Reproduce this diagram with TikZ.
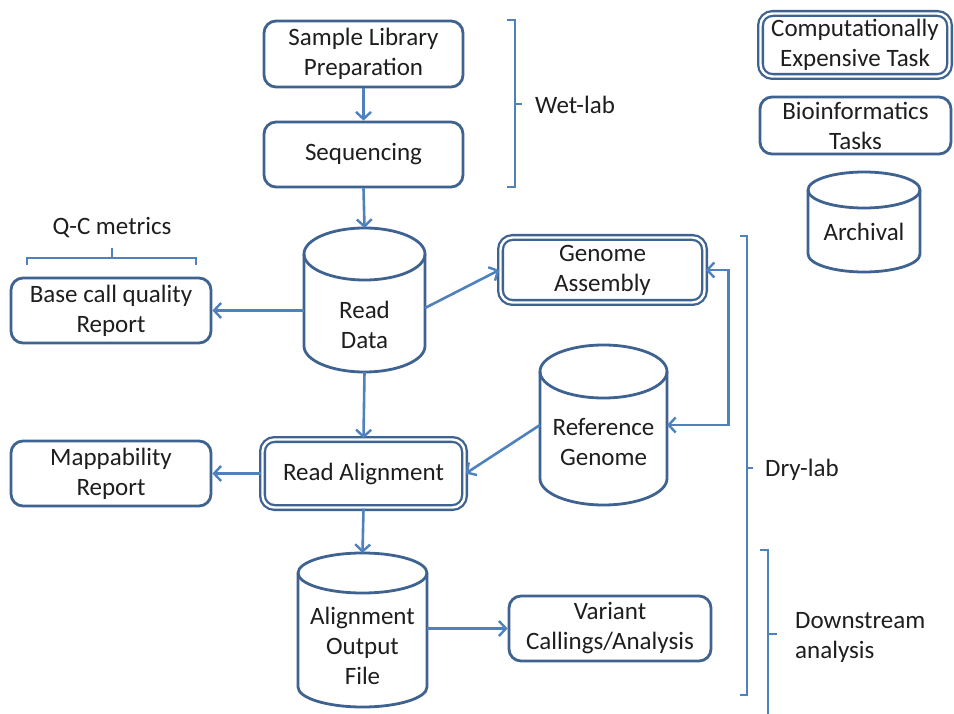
\documentclass[tikz,border=0pt]{standalone}
\usepackage{fontspec}
\setmainfont{Carlito}
\usetikzlibrary{arrows.meta,calc}
\definecolor{linkblue}{HTML}{4F81BD}
\definecolor{boxblue}{HTML}{3F6391}
\definecolor{txtcol}{HTML}{1E1E1E}
\newcommand{\cylshape}[3]{%
  \draw[cylline, fill=white] ([yshift=-#3]#1.north west) -- ([yshift=#3]#1.south west)
    arc[start angle=180, end angle=360, x radius=#2, y radius=#3]
    -- ([yshift=-#3]#1.north east)
    arc[start angle=0, end angle=180, x radius=#2, y radius=#3] -- cycle;
  \draw[cylline] ([yshift=-#3]#1.north west)
    arc[start angle=180, end angle=360, x radius=#2, y radius=#3];
}
\begin{document}
\begin{tikzpicture}[x=1pt, y=-1pt,
  every node/.style={font=\fontsize{25}{30}\selectfont, text=txtcol, align=center},
  taskbox/.style={draw=boxblue, line width=2.8pt, rounded corners=12pt, fill=white, inner sep=0pt},
  costbox/.style={draw=boxblue, line width=2.3pt, double=white, double distance=2.4pt, rounded corners=12pt, fill=white, inner sep=0pt},
  cylnode/.style={inner sep=0pt, outer sep=0pt},
  cylline/.style={draw=boxblue, line width=2.8pt},
  link/.style={draw=linkblue, line width=2.6pt, -{Straight Barb[length=7pt, width=15pt, line width=2.4pt]}},
  twolink/.style={draw=linkblue, line width=2.6pt, {Straight Barb[length=7pt, width=15pt, line width=2.4pt]}-{Straight Barb[length=7pt, width=15pt, line width=2.4pt]}},
  brace/.style={draw=linkblue, line width=2.6pt},
  lbl/.style={anchor=west, inner sep=0pt, align=left}
]
\useasboundingbox[fill=white] (0,0) rectangle (954,714);

% ---- main flow boxes
\node[taskbox, minimum width=199pt, minimum height=66pt] (sl) at (363.5,54) {Sample Library\\Preparation};
\node[taskbox, minimum width=199pt, minimum height=65pt] (sq) at (363.5,154.5) {Sequencing};
\node[taskbox, minimum width=200pt, minimum height=65pt] (bc) at (111,310.5) {Base call quality\\Report};
\node[taskbox, minimum width=200pt, minimum height=65pt] (mp) at (111,473.5) {Mappability\\Report};
\node[taskbox, minimum width=202pt, minimum height=65pt] (vc) at (610,628.5) {Variant\\Callings/Analysis};
\node[costbox, minimum width=204pt, minimum height=65pt] (ga) at (602.5,270) {Genome\\Assembly};
\node[costbox, minimum width=202pt, minimum height=68pt] (ra) at (363.5,473.5) {Read Alignment};

% ---- cylinders
\node[cylnode, minimum width=121pt, minimum height=144pt] (rd) at (364.5,300) {};
\cylshape{rd}{60.5pt}{26pt}
\node (rdt) at (364.5,325) {Read\\Data};

\node[cylnode, minimum width=127pt, minimum height=160pt] (rg) at (603.5,425) {};
\cylshape{rg}{63.5pt}{26.5pt}
\node (rgt) at (603.5,442) {Reference\\Genome};

\node[cylnode, minimum width=129pt, minimum height=154pt] (ao) at (362.5,630) {};
\cylshape{ao}{64.5pt}{20pt}
\node (aot) at (362.5,646) {Alignment\\Output\\File};

% ---- legend
\node[costbox, minimum width=189pt, minimum height=63pt] (lg1) at (855,45) {Computationally\\Expensive Task};
\node[taskbox, minimum width=191pt, minimum height=57pt] (lg2) at (855.5,125.5) {Bioinformatics\\Tasks};
\node[cylnode, minimum width=112pt, minimum height=100pt] (lg3) at (864,222) {};
\cylshape{lg3}{56pt}{18pt}
\node (lg3t) at (864,232) {Archival};

% ---- connectors
\draw[link] (sl.south) -- (sq.north);
\draw[link] (sq.south) -- (rd.north);
\draw[link] (rd.west |- bc.east) -- (bc.east);
\draw[link] ([yshift=-8pt]rd.east) -- (ga.west);
\draw[link] (rd.south) -- (ra.north);
\draw[link] (rg.west) -- (ra.east);
\draw[twolink] (ga.east) -- ++(23,0) |- (rg.east);
\draw[link] (ra.west) -- (mp.east);
\draw[link] (ra.south) -- (ao.north);
\draw[link] (ao.east |- vc.west) -- (vc.west);

% ---- brackets and labels
\draw[brace] (507,20) -- (515,20) -- (515,187) -- (507,187);
\draw[brace] (515,104) -- (522,104);
\node[lbl] (wet) at (535,105) {Wet-lab};

\draw[brace] (27,265) -- (27,258) -- (196,258) -- (196,265);
\draw[brace] (112,258) -- (112,248);
\node (qc) at (112,228) {Q-C metrics};

\draw[brace] (740,236) -- (747,236) -- (747,695) -- (740,695);
\draw[brace] (747,468) -- (753,468);
\node[lbl] (dry) at (765,470) {Dry-lab};

\draw[brace] (760,550) -- (768,550) -- (768,714);
\draw[brace] (768,634) -- (777,634);
\node[lbl] (down) at (795,637) {Downstream\\analysis};
\end{tikzpicture}
\end{document}
